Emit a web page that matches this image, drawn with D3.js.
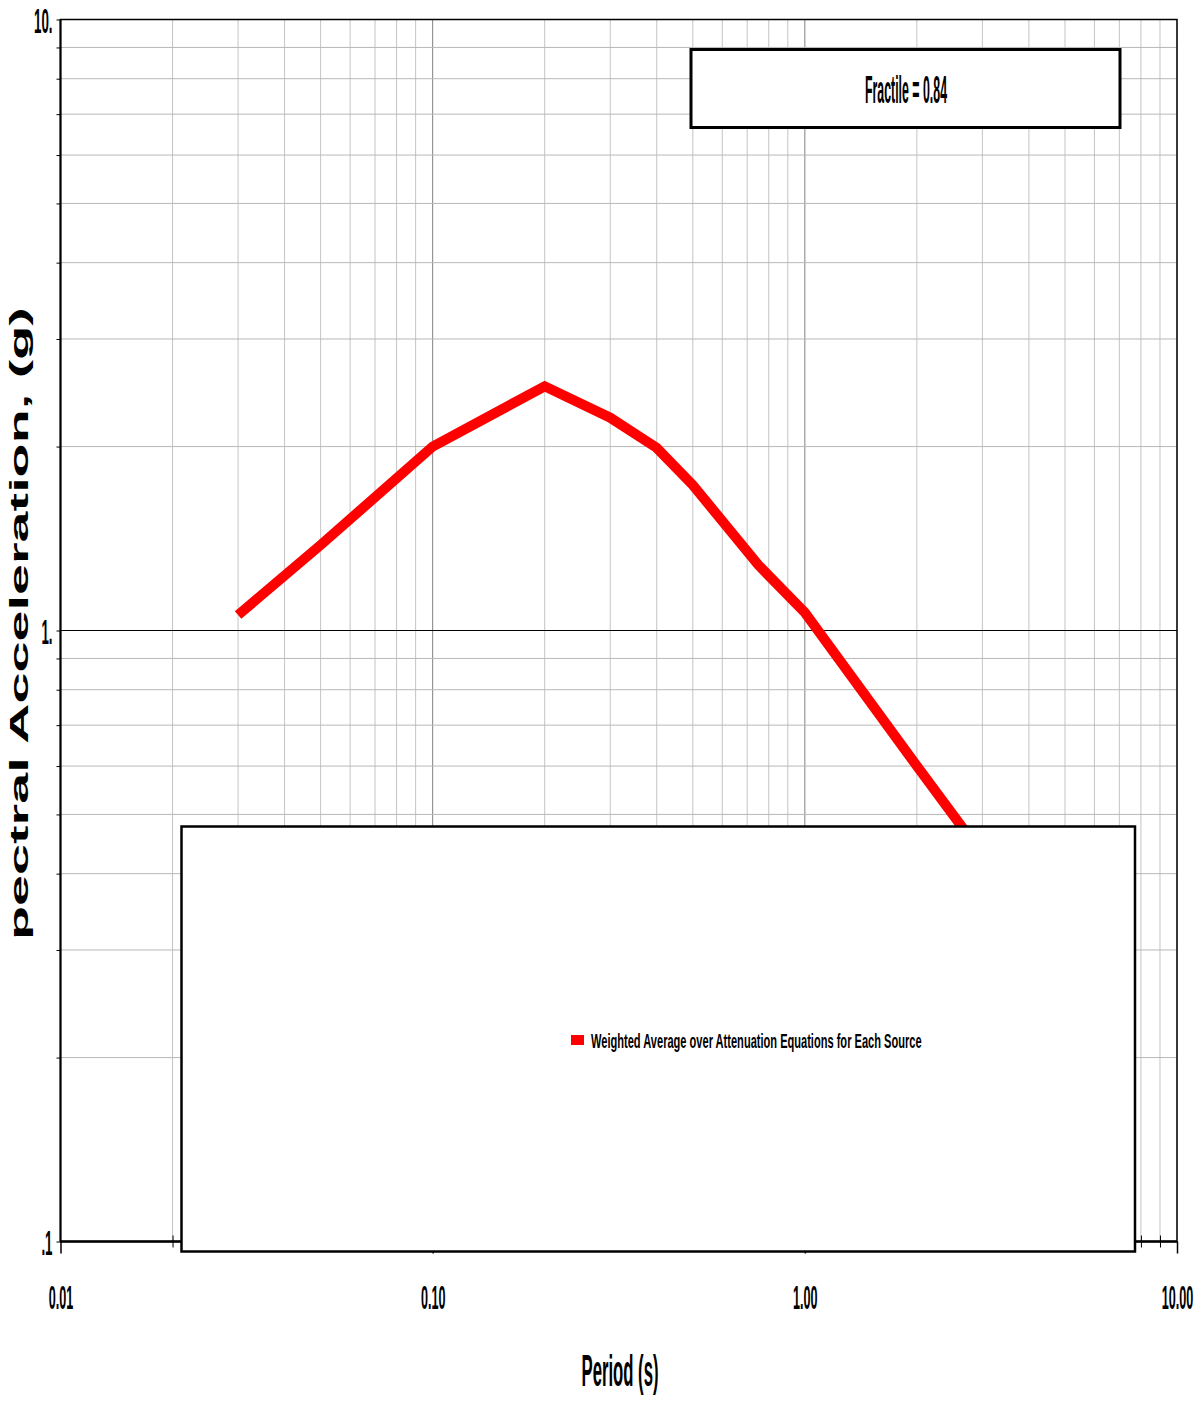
<!DOCTYPE html>
<html>
<head>
<meta charset="utf-8">
<script src="https://cdn.jsdelivr.net/npm/d3@7"></script>
<style>
  body { margin: 0; background: #fff; }
  text { font-family: "Liberation Sans", Arial, sans-serif; }
</style>
</head>
<body>
<div id="chart"></div>
<script>
// data
const periods = [0.03, 0.05, 0.1, 0.2, 0.3, 0.4, 0.5, 0.75, 1.0, 2.0, 3.0]
const accel = [1.06, 1.38, 2.0, 2.51, 2.23, 1.99, 1.73, 1.28, 1.07, 0.60, 0.43]
const xTickValues = [0.01, 0.1, 1, 10]
const xTickLabels = ['0.01', '0.10', '1.00', '10.00']
const yTickValues = [0.1, 1, 10]
const yTickLabels = ['.1', '1.', '10.']
const seriesName = 'Weighted Average over Attenuation Equations for Each Source'
const fractileText = 'Fractile = 0.84'

const width = 1204
const height = 1405
const plot = {left: 60.5, right: 1177, top: 19.5, bottom: 1241.5}
const SQUEEZE = 0.37

const x = d3.scaleLog().domain([0.01, 10]).range([plot.left, plot.right])
const y = d3.scaleLog().domain([0.1, 10]).range([plot.bottom, plot.top])

const svg = d3.select('#chart').append('svg')
  .attr('width', width).attr('height', height)

// squeezed text: natural glyphs scaled horizontally to a target width
function squeezedText (parent, str, px, py, size, targetWidth, anchor, rotate) {
  const g = parent.append('g')
  const t = g.append('text')
    .attr('font-size', size).attr('font-weight', 'bold')
    .attr('text-anchor', anchor || 'start')
    .text(str)
  const sx = targetWidth / t.node().getComputedTextLength()
  g.attr('transform', `translate(${px},${py})${rotate ? ' rotate(' + rotate + ')' : ''} scale(${sx},1)`)
  return t
}

// grid
const xGrid = x.ticks()
const yGrid = y.ticks()

svg.append('g').selectAll('line').data(xGrid).enter().append('line')
  .attr('x1', d => x(d)).attr('x2', d => x(d))
  .attr('y1', plot.top).attr('y2', plot.bottom)
  .attr('stroke', d => (d === 0.1 || d === 1) ? '#808080' : '#c4c4c4')
  .attr('stroke-width', 1)

svg.append('g').selectAll('line').data(yGrid).enter().append('line')
  .attr('x1', plot.left).attr('x2', plot.right)
  .attr('y1', d => y(d)).attr('y2', d => y(d))
  .attr('stroke', d => d === 1 ? '#000' : '#b8b8b8')
  .attr('stroke-width', 1)

// frame
svg.append('rect')
  .attr('x', plot.left).attr('y', plot.top)
  .attr('width', plot.right - plot.left).attr('height', plot.bottom - plot.top)
  .attr('fill', 'none').attr('stroke', '#000').attr('stroke-width', 1.5)
svg.append('line').attr('x1', plot.left).attr('x2', plot.left).attr('y1', plot.top).attr('y2', plot.bottom)
  .attr('stroke', '#000').attr('stroke-width', 2)
svg.append('line').attr('x1', plot.left).attr('x2', plot.right).attr('y1', plot.bottom).attr('y2', plot.bottom)
  .attr('stroke', '#000').attr('stroke-width', 2.5)

// left axis: small outside ticks + labels
svg.append('g')
  .attr('transform', `translate(${plot.left},0)`)
  .call(d3.axisLeft(y).tickValues(yGrid).tickSize(4).tickFormat(''))
  .call(g => g.select('.domain').remove())

svg.append('g')
  .attr('transform', `translate(${plot.left},0)`)
  .call(d3.axisLeft(y).tickValues(yTickValues).tickSize(0)
    .tickFormat((d, i) => yTickLabels[i]))
  .call(g => {
    g.select('.domain').remove()
    g.selectAll('text')
      .attr('x', -8 / SQUEEZE)
      .attr('dy', '0.36em')
      .attr('transform', `scale(${SQUEEZE},1)`)
      .attr('font-size', 36).attr('font-weight', 'bold')
      .attr('font-family', '"Liberation Sans", Arial, sans-serif')
      .attr('fill', '#000')
  })

// bottom axis: minor ticks cross the axis, major ticks hang below
svg.append('g')
  .attr('transform', `translate(0,${plot.bottom - 6})`)
  .call(d3.axisBottom(x).tickValues(xGrid.filter(d => !xTickValues.includes(d))).tickSize(12).tickFormat(''))
  .call(g => g.select('.domain').remove())

svg.append('g')
  .attr('transform', `translate(0,${plot.bottom})`)
  .call(d3.axisBottom(x).tickValues(xTickValues).tickSize(12)
    .tickFormat((d, i) => xTickLabels[i]))
  .call(g => {
    g.select('.domain').remove()
    g.selectAll('line').attr('stroke-width', 1.5)
    g.selectAll('text')
      .attr('x', 0)
      .attr('y', 68)
      .attr('dy', 0)
      .attr('transform', `scale(${SQUEEZE},1)`)
      .attr('font-size', 34).attr('font-weight', 'bold')
      .attr('font-family', '"Liberation Sans", Arial, sans-serif')
      .attr('fill', '#000')
  })

// series
const line = d3.line()
  .x((d, i) => x(periods[i]))
  .y(d => y(d))

svg.append('path')
  .attr('d', line(accel))
  .attr('fill', 'none')
  .attr('stroke', '#ff0000')
  .attr('stroke-width', 10)
  .attr('stroke-linejoin', 'miter')

// fractile box
svg.append('rect')
  .attr('x', 691).attr('y', 49.5).attr('width', 429).attr('height', 78)
  .attr('fill', '#fff').attr('stroke', '#000').attr('stroke-width', 3)
squeezedText(svg, fractileText, 906, 102.5, 38, 82, 'middle')

// legend box
svg.append('rect')
  .attr('x', 181.5).attr('y', 826.5).attr('width', 953.5).attr('height', 425)
  .attr('fill', '#fff').attr('stroke', '#000').attr('stroke-width', 2.5)
svg.append('rect')
  .attr('x', 571).attr('y', 1035).attr('width', 13).attr('height', 10)
  .attr('fill', '#ff0000')
squeezedText(svg, seriesName, 591, 1048, 21, 331, 'start')

// axis titles
squeezedText(svg, 'Period (s)', 620, 1386, 44, 77, 'middle')

squeezedText(svg, 'pectral Acceleration, (g)', 28, 940, 26, 633, 'start', -90)
  .attr('font-family', '"DejaVu Sans", sans-serif')
</script>
</body>
</html>
